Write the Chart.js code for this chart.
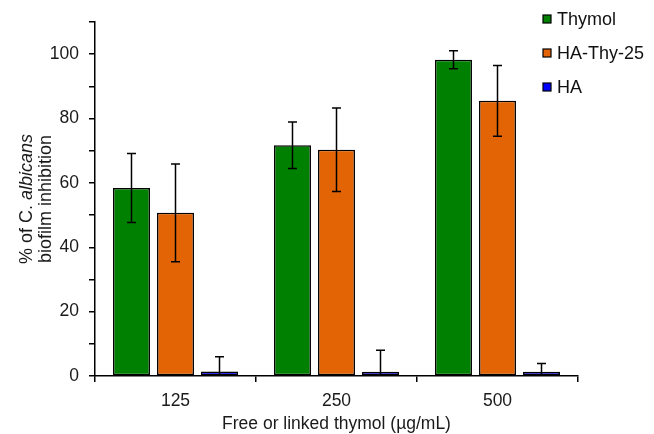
<!DOCTYPE html>
<html>
<head>
<meta charset="utf-8">
<script src="https://cdn.jsdelivr.net/npm/chart.js@4"></script>
<style>
  html, body { margin: 0; padding: 0; background: #fff; }
  #wrap { width: 654px; height: 434px; }
</style>
</head>
<body>
<div id="wrap"><canvas id="bioChart" width="654" height="434"></canvas></div>
<script>
const categories = ['125', '250', '500'];
const seriesNames = ['Thymol', 'HA-Thy-25', 'HA'];
const thymol = [58.4, 71.7, 98.3];
const haThy25 = [50.7, 70.3, 85.5];
const ha = [1.4, 1.3, 1.3];
const thymolErr = [10.7, 7.2, 2.8];
const haThy25Err = [15.2, 13.0, 11.0];
const haErr = [4.6, 6.7, 2.6];
const yTicksShown = [0, 20, 40, 60, 80, 100];

const FONT = 'Liberation Sans, Arial, sans-serif';
const colors = ['#008000', '#E36405', '#0000FF'];
const errs = [thymolErr, haThy25Err, haErr];

// error bars, drawn from the y scale
const errorBars = {
  id: 'errorBars',
  afterDatasetsDraw(chart) {
    const ctx = chart.ctx;
    const y = chart.scales.y;
    ctx.save();
    ctx.strokeStyle = '#000';
    ctx.lineWidth = 1.5;
    chart.data.datasets.forEach((ds, di) => {
      const meta = chart.getDatasetMeta(di);
      meta.data.forEach((bar, i) => {
        const v = ds.data[i], e = errs[di][i];
        const top = y.getPixelForValue(v + e);
        const bot = y.getPixelForValue(Math.max(v - e, 0));
        ctx.beginPath();
        ctx.moveTo(bar.x, top); ctx.lineTo(bar.x, bot);
        ctx.moveTo(bar.x - 4.5, top); ctx.lineTo(bar.x + 4.5, top);
        if (v - e > 0) { ctx.moveTo(bar.x - 4.5, bot); ctx.lineTo(bar.x + 4.5, bot); }
        ctx.stroke();
      });
    });
    ctx.restore();
  }
};

// legend, axis titles (y title has italic species name)
const extras = {
  id: 'extras',
  afterDraw(chart) {
    const ctx = chart.ctx;
    const area = chart.chartArea;
    ctx.save();
    // legend
    const ys = [19, 53, 87];
    ctx.font = '18px ' + FONT;
    ctx.textBaseline = 'middle';
    seriesNames.forEach((name, i) => {
      ctx.fillStyle = colors[i];
      ctx.fillRect(543, ys[i] - 4, 8, 8);
      ctx.strokeStyle = '#000';
      ctx.lineWidth = 1.2;
      ctx.strokeRect(543, ys[i] - 4, 8, 8);
      ctx.fillStyle = '#111';
      ctx.fillText(name, 557, ys[i] + 1);
    });
    // x title
    ctx.fillStyle = '#1a1a1a';
    ctx.font = '17.5px ' + FONT;
    ctx.textAlign = 'center';
    ctx.fillText('Free or linked thymol (µg/mL)', (area.left + area.right) / 2, 424);
    // y title
    const cy = (area.top + area.bottom) / 2;
    ctx.translate(27, cy);
    ctx.rotate(-Math.PI / 2);
    const p1 = '% of C. ', p2 = 'albicans';
    ctx.font = '18px ' + FONT;
    const w1 = ctx.measureText(p1).width;
    ctx.font = 'italic 18px ' + FONT;
    const w2 = ctx.measureText(p2).width;
    let x0 = -(w1 + w2) / 2;
    ctx.font = '18px ' + FONT;
    ctx.textAlign = 'left';
    ctx.fillText(p1, x0, 0);
    ctx.font = 'italic 18px ' + FONT;
    ctx.fillText(p2, x0 + w1, 0);
    ctx.font = '18px ' + FONT;
    ctx.textAlign = 'center';
    ctx.fillText('biofilm inhibition', 0, 19);
    ctx.restore();
  }
};

const ctx = document.getElementById('bioChart').getContext('2d');
new Chart(ctx, {
  type: 'bar',
  data: {
    labels: categories,
    datasets: [
      { label: seriesNames[0], data: thymol, backgroundColor: colors[0] },
      { label: seriesNames[1], data: haThy25, backgroundColor: colors[1] },
      { label: seriesNames[2], data: ha, backgroundColor: colors[2] }
    ].map(d => Object.assign(d, {
      borderColor: '#000', borderWidth: 1.5, borderSkipped: false,
      categoryPercentage: 0.82, barPercentage: 0.84
    }))
  },
  options: {
    responsive: false,
    animation: false,
    layout: { padding: { top: 22, right: 76, left: 0, bottom: 0 } },
    plugins: { legend: { display: false }, tooltip: { enabled: false } },
    scales: {
      x: {
        grid: { display: true, offset: true, drawOnChartArea: false, drawTicks: true, tickLength: 6, color: '#000', lineWidth: 1.5 },
        border: { display: true, color: '#000', width: 1.5 },
        ticks: { color: '#1a1a1a', font: { family: FONT, size: 17.5 }, padding: 9 },
        afterFit(s) { s.height = 58; }
      },
      y: {
        min: 0, max: 110,
        grid: { display: true, drawOnChartArea: false, drawTicks: true, tickLength: 6, color: '#000', lineWidth: 1.5 },
        border: { display: true, color: '#000', width: 1.5 },
        ticks: {
          stepSize: 10, color: '#1a1a1a', font: { family: FONT, size: 17.5 }, padding: 10,
          callback: v => yTicksShown.includes(v) ? String(v) : ''
        },
        afterFit(s) { s.width = 95; }
      }
    }
  },
  plugins: [errorBars, extras]
});
</script>
</body>
</html>
